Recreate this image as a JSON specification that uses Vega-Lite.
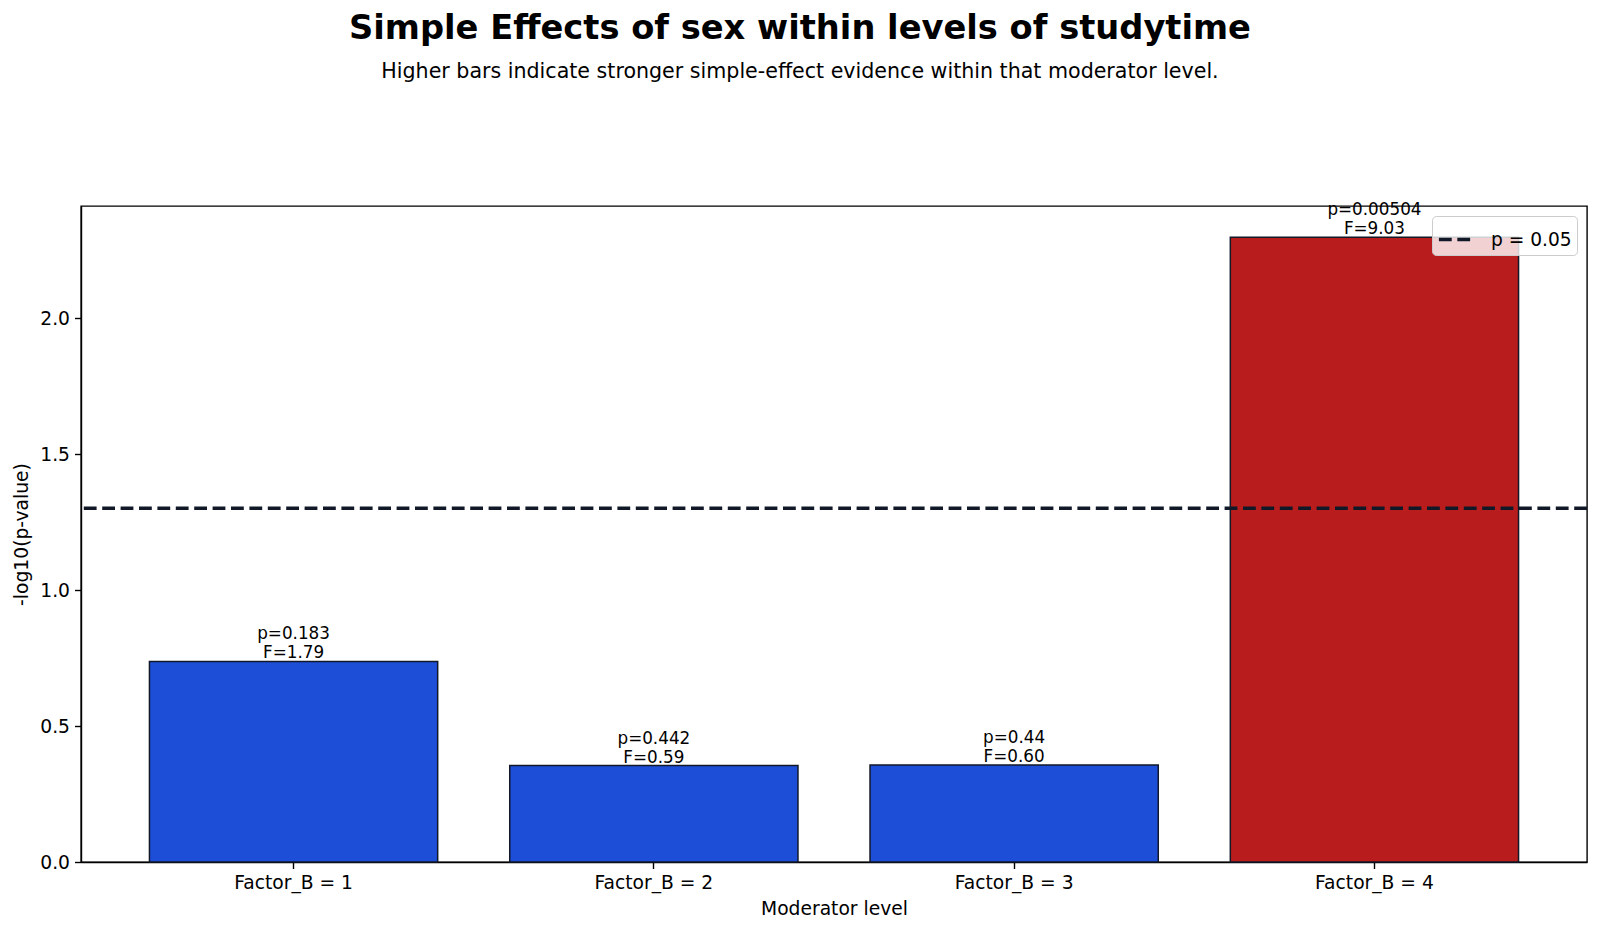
{
  "$schema": "https://vega.github.io/schema/vega-lite/v6.json",
  "autosize": {"type": "none"},
  "width": 1506,
  "height": 656,
  "padding": {"left": 81, "top": 206, "right": 13, "bottom": 70},
  "background": "white",
  "config": {
    "font": "DejaVu Sans",
    "view": {"stroke": "#000000", "strokeWidth": 1.4},
    "axis": {
      "domainColor": "#000000",
      "domainWidth": 1.4,
      "tickColor": "#000000",
      "tickWidth": 1.4,
      "tickSize": 6.5,
      "labelPadding": 5,
      "labelFontSize": 18.7,
      "labelColor": "#000000",
      "titleFontSize": 18.7,
      "titleFontWeight": "normal",
      "titleColor": "#000000",
      "grid": false
    },
    "legend": {
      "fillColor": "rgba(255,255,255,0.8)",
      "strokeColor": "#cccccc",
      "cornerRadius": 4,
      "padding": 5
    }
  },
  "title": {
    "text": "Simple Effects of sex within levels of studytime",
    "subtitle": "Higher bars indicate stronger simple-effect evidence within that moderator level.",
    "anchor": "middle",
    "frame": "group",
    "dx": -34,
    "fontSize": 33.7,
    "fontWeight": "bold",
    "color": "#000000",
    "subtitleFontSize": 20.6,
    "subtitleColor": "#000000",
    "subtitlePadding": 16,
    "offset": 120
  },
  "datasets": {
    "effects": [
      {"level": "Factor_B = 1", "neglogp": 0.7375, "label": "p=0.183\nF=1.79", "group": "ns"},
      {"level": "Factor_B = 2", "neglogp": 0.3546, "label": "p=0.442\nF=0.59", "group": "ns"},
      {"level": "Factor_B = 3", "neglogp": 0.3565, "label": "p=0.44\nF=0.60", "group": "ns"},
      {"level": "Factor_B = 4", "neglogp": 2.2976, "label": "p=0.00504\nF=9.03", "group": "sig"}
    ],
    "threshold": [
      {"cut": 1.30103, "name": "p = 0.05"}
    ]
  },
  "layer": [
    {
      "data": {"name": "effects"},
      "mark": {"type": "bar", "stroke": "#111827", "strokeWidth": 1.5},
      "encoding": {
        "x": {
          "field": "level",
          "type": "nominal",
          "sort": null,
          "scale": {"paddingInner": 0.2, "paddingOuter": 0.19},
          "axis": {"labelAngle": 0, "title": "Moderator level", "titlePadding": 7}
        },
        "y": {
          "field": "neglogp",
          "type": "quantitative",
          "scale": {"domain": [0, 2.4125], "nice": false},
          "axis": {"values": [0, 0.5, 1, 1.5, 2], "format": ".1f", "title": "-log10(p-value)", "titlePadding": 8}
        },
        "fill": {
          "field": "group",
          "type": "nominal",
          "scale": {"domain": ["ns", "sig"], "range": ["#1d4ed8", "#b91c1c"]},
          "legend": null
        }
      }
    },
    {
      "data": {"name": "effects"},
      "mark": {"type": "text", "baseline": "bottom", "align": "center", "lineBreak": "\n", "lineHeight": 19, "dy": -18, "fontSize": 16.8, "color": "#000000"},
      "encoding": {
        "x": {"field": "level", "type": "nominal", "sort": null},
        "y": {"field": "neglogp", "type": "quantitative"},
        "text": {"field": "label"}
      }
    },
    {
      "data": {"name": "threshold"},
      "mark": {"type": "rule", "strokeWidth": 3.5, "strokeDash": [12.8, 5.6]},
      "encoding": {
        "y": {"field": "cut", "type": "quantitative"},
        "stroke": {
          "field": "name",
          "type": "nominal",
          "scale": {"range": ["#111827"]},
          "legend": {
            "title": null,
            "orient": "top-right",
            "offset": 10,
            "symbolType": "stroke",
            "symbolSize": 1100,
            "symbolStrokeWidth": 3.5,
            "symbolDash": [12.8, 5.6],
            "labelFontSize": 18.6,
            "labelColor": "#000000",
            "labelOffset": 17
          }
        }
      }
    }
  ]
}
